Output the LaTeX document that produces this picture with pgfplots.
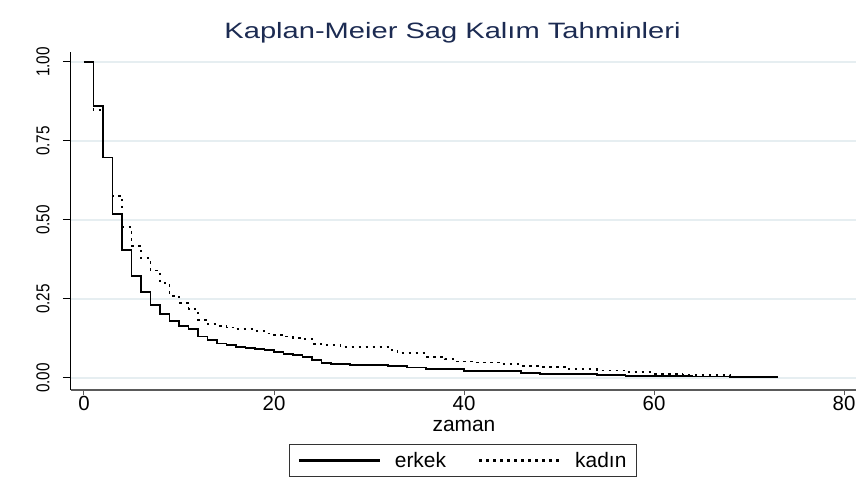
\documentclass[border=0pt]{standalone}
\usepackage{fontspec}
\setmainfont{Liberation Sans}
\newfontfamily\titlefont[FakeStretch=1.31]{Liberation Sans}
\newfontfamily\ytfont[FakeStretch=0.82]{Liberation Sans}
\usepackage{pgfplots}
\pgfplotsset{compat=1.18}
\definecolor{titleblue}{RGB}{28,43,82}
\definecolor{gridc}{RGB}{230,238,241}
\definecolor{xaxc}{RGB}{90,90,90}
\begin{document}
\begin{tikzpicture}
\begin{axis}[
  scale only axis, width=785bp, height=338.3bp,
  at={(0,0)}, anchor=south west,
  xmin=-1.368, xmax=81.26, ymin=-0.038, ymax=1.0326,
  axis x line*=bottom, axis y line*=left,
  axis line style={-},
  x axis line style={xaxc, line width=1.6bp},
  y axis line style={black, line width=1bp},
  xtick={0,20,40,60,80},
  ytick={0,0.25,0.5,0.75,1},
  yticklabels={0.00,0.25,0.50,0.75,1.00},
  tick align=outside,
  xtick style={xaxc, line width=1bp, /pgfplots/major tick length=5bp},
  ytick style={black, line width=1bp, /pgfplots/major tick length=8bp},
  /pgf/number format/assume math mode=true,
  xticklabel style={font=\fontsize{20.5}{20.5}\selectfont, inner sep=2bp},
  yticklabel style={font=\ytfont\fontsize{18.7}{18.7}\selectfont, rotate=90, anchor=south, inner xsep=0bp, inner ysep=17bp},
  ymajorgrids, major grid style={gridc, line width=1.5bp},
  title={\titlefont Kaplan-Meier Sag Kalım Tahminleri},
  title style={at={(0.486,1.0228)}, anchor=base, font=\fontsize{22.3}{22.3}\selectfont, text=titleblue},
  xlabel={zaman},
  xlabel style={at={(0.5006,-0.1241)}, anchor=base, font=\fontsize{21}{21}\selectfont},
  legend columns=2,
  legend style={at={(0.4994,-0.2084)}, anchor=center, draw=black!80, line width=0.8bp,
    font=\fontsize{21}{21}\selectfont, inner xsep=8bp, inner ysep=5.5bp,
    /tikz/every odd column/.append style={column sep=12bp},
    /tikz/every even column/.append style={column sep=30bp}},
  legend image code/.code={\draw[#1, line width=2.2bp] (0bp,0bp) -- (81bp,0bp);},
]
\addplot[const plot, black, line width=1.8bp] coordinates {
(0,1.0) (1,0.862) (2,0.698) (3,0.519) (4,0.405) (5,0.324) (6,0.273) (7,0.231)
(8,0.203) (9,0.181) (10,0.165) (11,0.155) (12,0.131) (13,0.120) (14,0.109)
(15,0.105) (16,0.097) (17,0.095) (18,0.092) (19,0.089) (20,0.082) (21,0.077)
(22,0.072) (23,0.066) (24,0.057) (25,0.047) (26,0.044) (28,0.042) (32,0.039)
(34,0.033) (36,0.028) (40,0.023) (42,0.021) (46,0.017) (48,0.013) (54,0.010)
(57,0.007) (64,0.005) (68,0.003) (73,0.001)};
\addlegendentry{erkek}
\addplot[const plot, black, line width=1.8bp, dash pattern=on 2.5bp off 4.5bp] coordinates {
(0,1.0) (1,0.848) (2,0.698) (3,0.577) (4,0.477) (5,0.418) (6,0.379) (7,0.340)
(8,0.300) (9,0.260) (10,0.238) (11,0.218) (12,0.184) (13,0.170) (14,0.165)
(15,0.160) (16,0.154) (18,0.148) (19,0.141) (20,0.137) (21,0.131) (22,0.127)
(23,0.123) (24,0.108) (25,0.104) (27,0.097) (32,0.088) (33,0.078) (36,0.067)
(38,0.060) (39,0.052) (41,0.049) (44,0.044) (46,0.039) (48,0.036) (51,0.028)
(54,0.024) (57,0.018) (60,0.013) (63,0.009) (68,0.005) (73,0.001)};
\addlegendentry{kadın}
\end{axis}
\pgfresetboundingbox
\path[use as bounding box] (-71bp,-108bp) rectangle (794bp,390bp);
\end{tikzpicture}
\end{document}
